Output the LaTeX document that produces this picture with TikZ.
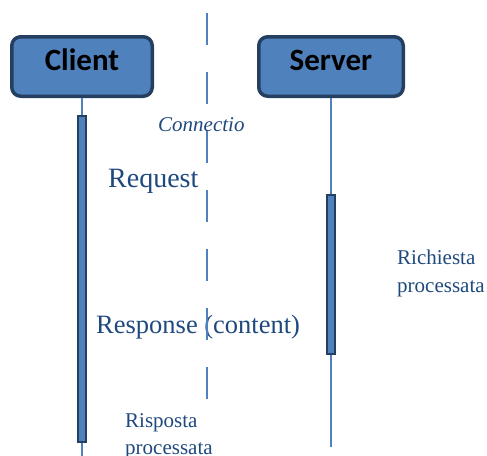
\documentclass[tikz,border=0pt]{standalone}
\usepackage{fontspec}
\setmainfont{Liberation Serif}
\newfontfamily\boxfont{Carlito}
\usetikzlibrary{positioning}
\definecolor{seqblue}{HTML}{4F81BD}
\definecolor{seqdark}{HTML}{243F60}
\definecolor{seqtext}{HTML}{1F497D}

\begin{document}
\begin{tikzpicture}[x=1pt, y=-1pt,
  actor/.style={rounded corners=9pt, draw=seqdark, line width=3.5pt, fill=seqblue,
                minimum height=59.5pt, inner sep=0pt, text=black,
                text height=20pt, text depth=13pt,
                font=\boxfont\bfseries\fontsize{31}{36}\selectfont},
  bar/.style={draw=seqdark, line width=2pt, fill=seqblue, minimum width=8pt, inner sep=0pt},
  life/.style={seqblue, line width=1.5pt},
  conn/.style={seqblue, line width=2pt, dash pattern=on 32pt off 27pt},
  lbl/.style={text=seqtext, inner sep=0pt, anchor=base west, align=left}
]
\useasboundingbox (0,0) rectangle (487,455);
\node[actor, minimum width=140.5pt] (client) at (82,66.5) {Client};
\node[actor, minimum width=144.5pt] (server) at (331,66.5) {Server};
\node[bar, minimum height=326pt] (cbar) at (82,279) {};
\node[bar, minimum height=159pt] (sbar) at (331,274.5) {};
\coordinate (cend) at (82,462);
\coordinate (send) at (331,447);
\draw[life] (client) -- (cbar); \draw[life] (cbar) -- (cend);
\draw[life] (server) -- (sbar); \draw[life] (sbar) -- (send);
% labels
\node[lbl, font=\itshape\fontsize{21}{26}\selectfont] (conn) at (158,131) {Connectio};
\node[lbl, font=\fontsize{28}{32}\selectfont] (req) at (108,187) {Request};
\node[lbl, font=\fontsize{26.5}{30}\selectfont] (resp) at (96,333) {Response (content)};
\node[lbl, font=\fontsize{21}{28}\selectfont] (rich) at (397,292) {Richiesta\\processata};
\node[lbl, font=\fontsize{21}{27}\selectfont] (risp) at (125,454) {Risposta\\processata};
% connection
\coordinate (ctop) at (207,13);
\coordinate (cbot) at (207,400);
\draw[conn] (ctop) -- (cbot);
\end{tikzpicture}
\end{document}
